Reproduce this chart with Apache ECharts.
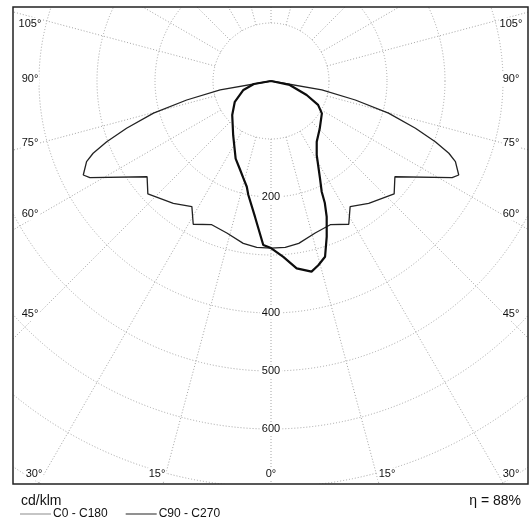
<!DOCTYPE html>
<html><head><meta charset="utf-8">
<script src="https://cdn.jsdelivr.net/npm/echarts@6/dist/echarts.min.js"></script>
<style>html,body{margin:0;padding:0;background:#fff}#c{width:529px;height:524px}</style>
</head><body><div id="c"></div>
<script>
// ---------- data (gamma in degrees from nadir, intensity in cd/klm) ----------
const c0Gamma = [0, 4.9, 9.7, 16.2, 22.4, 28.5, 32.2, 38.6, 47.5, 52.3, 61.9, 63.4, 66.4, 67.9, 69.7, 71.9, 74.7, 77.3, 80, 90];
const c0Int   = [288, 288, 284, 273, 268, 281, 256, 270, 288, 270, 354, 362, 347, 331, 302, 262, 210, 149, 89, 0];
const c270Gamma = [0, 2.7, 6.7, 11.3, 12.9, 15.9, 19.2, 24.5, 34.9, 48.7, 60.1, 72, 80, 90];
const c270Int   = [288, 283, 236, 200, 187, 174, 162, 147, 114, 89, 72, 50, 30, 0];
const c90Gamma = [0, 4, 7.8, 12, 14.4, 17.1, 19.7, 22.3, 23.8, 24.6, 26.7, 31.7, 37, 46, 57.5, 63.1, 68.6, 78.1, 90];
const c90Int   = [288, 304, 326, 336, 328, 317, 285, 253, 230, 210, 188, 150, 131, 117, 104, 91, 66, 33, 0];
const gridAngles = [0, 15, 30, 45, 60, 75, 105, 120, 135, 150, 165, 180, 195, 210, 225, 240, 255, 285, 300, 315, 330, 345];
const radiusLabels = [200, 400, 500, 600];
const angleLabelsSide = ['105°', '90°', '75°', '60°', '45°'];
const angleLabelsBottom = ['30°', '15°', '0°', '15°', '30°'];
const legendNames = ['C0 - C180', 'C90 - C270'];
const unitText = 'cd/klm';
const efficiencyText = 'η = 88%';

// ---------- layout ----------
const FONT = 'Liberation Sans, Arial, sans-serif';
const CX = 271, CY = 81, RMAX = 900, RPX = 522;
const FRAME = {x: 13, y: 7, w: 515, h: 477};
const sideY = [24, 79, 143, 214, 314];
const sideXL = 30, sideXR = 511;
const bottomX = [34, 157, 271, 387, 511], bottomY = 474;

// build curve paths: left half uses angle = gamma, right half uses angle = 360 - gamma
const wideData = [];
for (let i = c0Gamma.length - 1; i >= 0; i--) wideData.push([c0Int[i], c0Gamma[i]]);
for (let i = 0; i < c0Gamma.length; i++) wideData.push([c0Int[i], 360 - c0Gamma[i]]);
const narrowData = [];
for (let i = c270Gamma.length - 1; i >= 0; i--) narrowData.push([c270Int[i], c270Gamma[i]]);
for (let i = 0; i < c90Gamma.length; i++) narrowData.push([c90Int[i], 360 - c90Gamma[i]]);

const gridColor = '#a4a4a4';
const series = gridAngles.map(a => ({
  type: 'line', coordinateSystem: 'polar', silent: true, showSymbol: false, z: 1,
  data: [[100, a], [RMAX, a]],
  lineStyle: {color: gridColor, width: 1, type: [1, 2]}
}));
series.push({
  name: legendNames[0], type: 'line', coordinateSystem: 'polar', showSymbol: false, z: 5,
  data: wideData, lineStyle: {color: '#222', width: 1.3}, itemStyle: {color: '#222'}
});
series.push({
  name: legendNames[1], type: 'line', coordinateSystem: 'polar', showSymbol: false, z: 6,
  data: narrowData, lineStyle: {color: '#0d0d0d', width: 2.2}, itemStyle: {color: '#0d0d0d'}
});
const curveIdx = series.length - 1;

const chart = echarts.init(document.getElementById('c'), null, {renderer: 'canvas'});
chart.setOption({
  animation: false,
  backgroundColor: '#fff',
  polar: {center: [CX, CY], radius: RPX},
  radiusAxis: {
    type: 'value', min: 0, max: RMAX, interval: 100,
    axisLine: {show: false}, axisTick: {show: false}, axisLabel: {show: false},
    splitLine: {show: true, lineStyle: {color: gridColor, width: 1, type: [1, 2]}}
  },
  angleAxis: {
    type: 'value', min: 0, max: 360, interval: 15, startAngle: 270, clockwise: true,
    axisLine: {show: false}, axisTick: {show: false}, axisLabel: {show: false},
    splitLine: {show: false}
  },
  title: [
    {text: unitText, left: 21, top: 494, z: 30, padding: 0,
     textStyle: {fontFamily: FONT, fontSize: 14, fontWeight: 'normal', color: '#111'}},
    {text: efficiencyText, right: 8, top: 494, z: 30, padding: 0,
     textStyle: {fontFamily: FONT, fontSize: 14, fontWeight: 'normal', color: '#111'}}
  ],
  legend: {
    z: 30, left: 20, top: 508, padding: 0, icon: 'rect', itemWidth: 31, itemHeight: 1, itemGap: 18,
    data: [
      {name: legendNames[0], itemStyle: {color: '#8a8a8a'}},
      {name: legendNames[1], itemStyle: {color: '#222'}}
    ],
    textStyle: {fontFamily: FONT, fontSize: 12, color: '#111', padding: [0, 0, 0, -3]}
  },
  series: series
});

// ---------- text and frame ----------
const g = [];
radiusLabels.forEach(r => {
  const p = chart.convertToPixel({seriesIndex: curveIdx}, [r, 0]);
  g.push({type: 'text', x: p[0], y: p[1], z: 12,
    style: {text: String(r), fontFamily: FONT, fontSize: 11, fill: '#111',
      align: 'center', verticalAlign: 'middle', backgroundColor: '#fff', padding: [1, 2]}});
});
angleLabelsSide.forEach((t, i) => {
  [sideXL, sideXR].forEach(x => g.push({type: 'text', x: x, y: sideY[i], z: 12,
    style: {text: t, fontFamily: FONT, fontSize: 11, fill: '#111',
      align: 'center', verticalAlign: 'middle', backgroundColor: '#fff', padding: [1, 1]}}));
});
angleLabelsBottom.forEach((t, i) => {
  g.push({type: 'text', x: bottomX[i], y: bottomY, z: 12,
    style: {text: t, fontFamily: FONT, fontSize: 11, fill: '#111',
      align: 'center', verticalAlign: 'middle', backgroundColor: '#fff', padding: [1, 1]}});
});
// masks outside the frame
const W = 529, H = 524;
[[0, 0, W, FRAME.y], [0, 0, FRAME.x, H], [FRAME.x + FRAME.w, 0, W, H], [0, FRAME.y + FRAME.h, W, H]]
  .forEach(r => g.push({type: 'rect', z: 20, silent: true,
    shape: {x: r[0], y: r[1], width: r[2], height: r[3]}, style: {fill: '#fff'}}));
g.push({type: 'rect', z: 21, silent: true,
  shape: {x: FRAME.x, y: FRAME.y, width: FRAME.w, height: FRAME.h},
  style: {fill: 'none', stroke: '#222', lineWidth: 1.5}});
chart.setOption({graphic: {elements: g}});
</script>
</body></html>
